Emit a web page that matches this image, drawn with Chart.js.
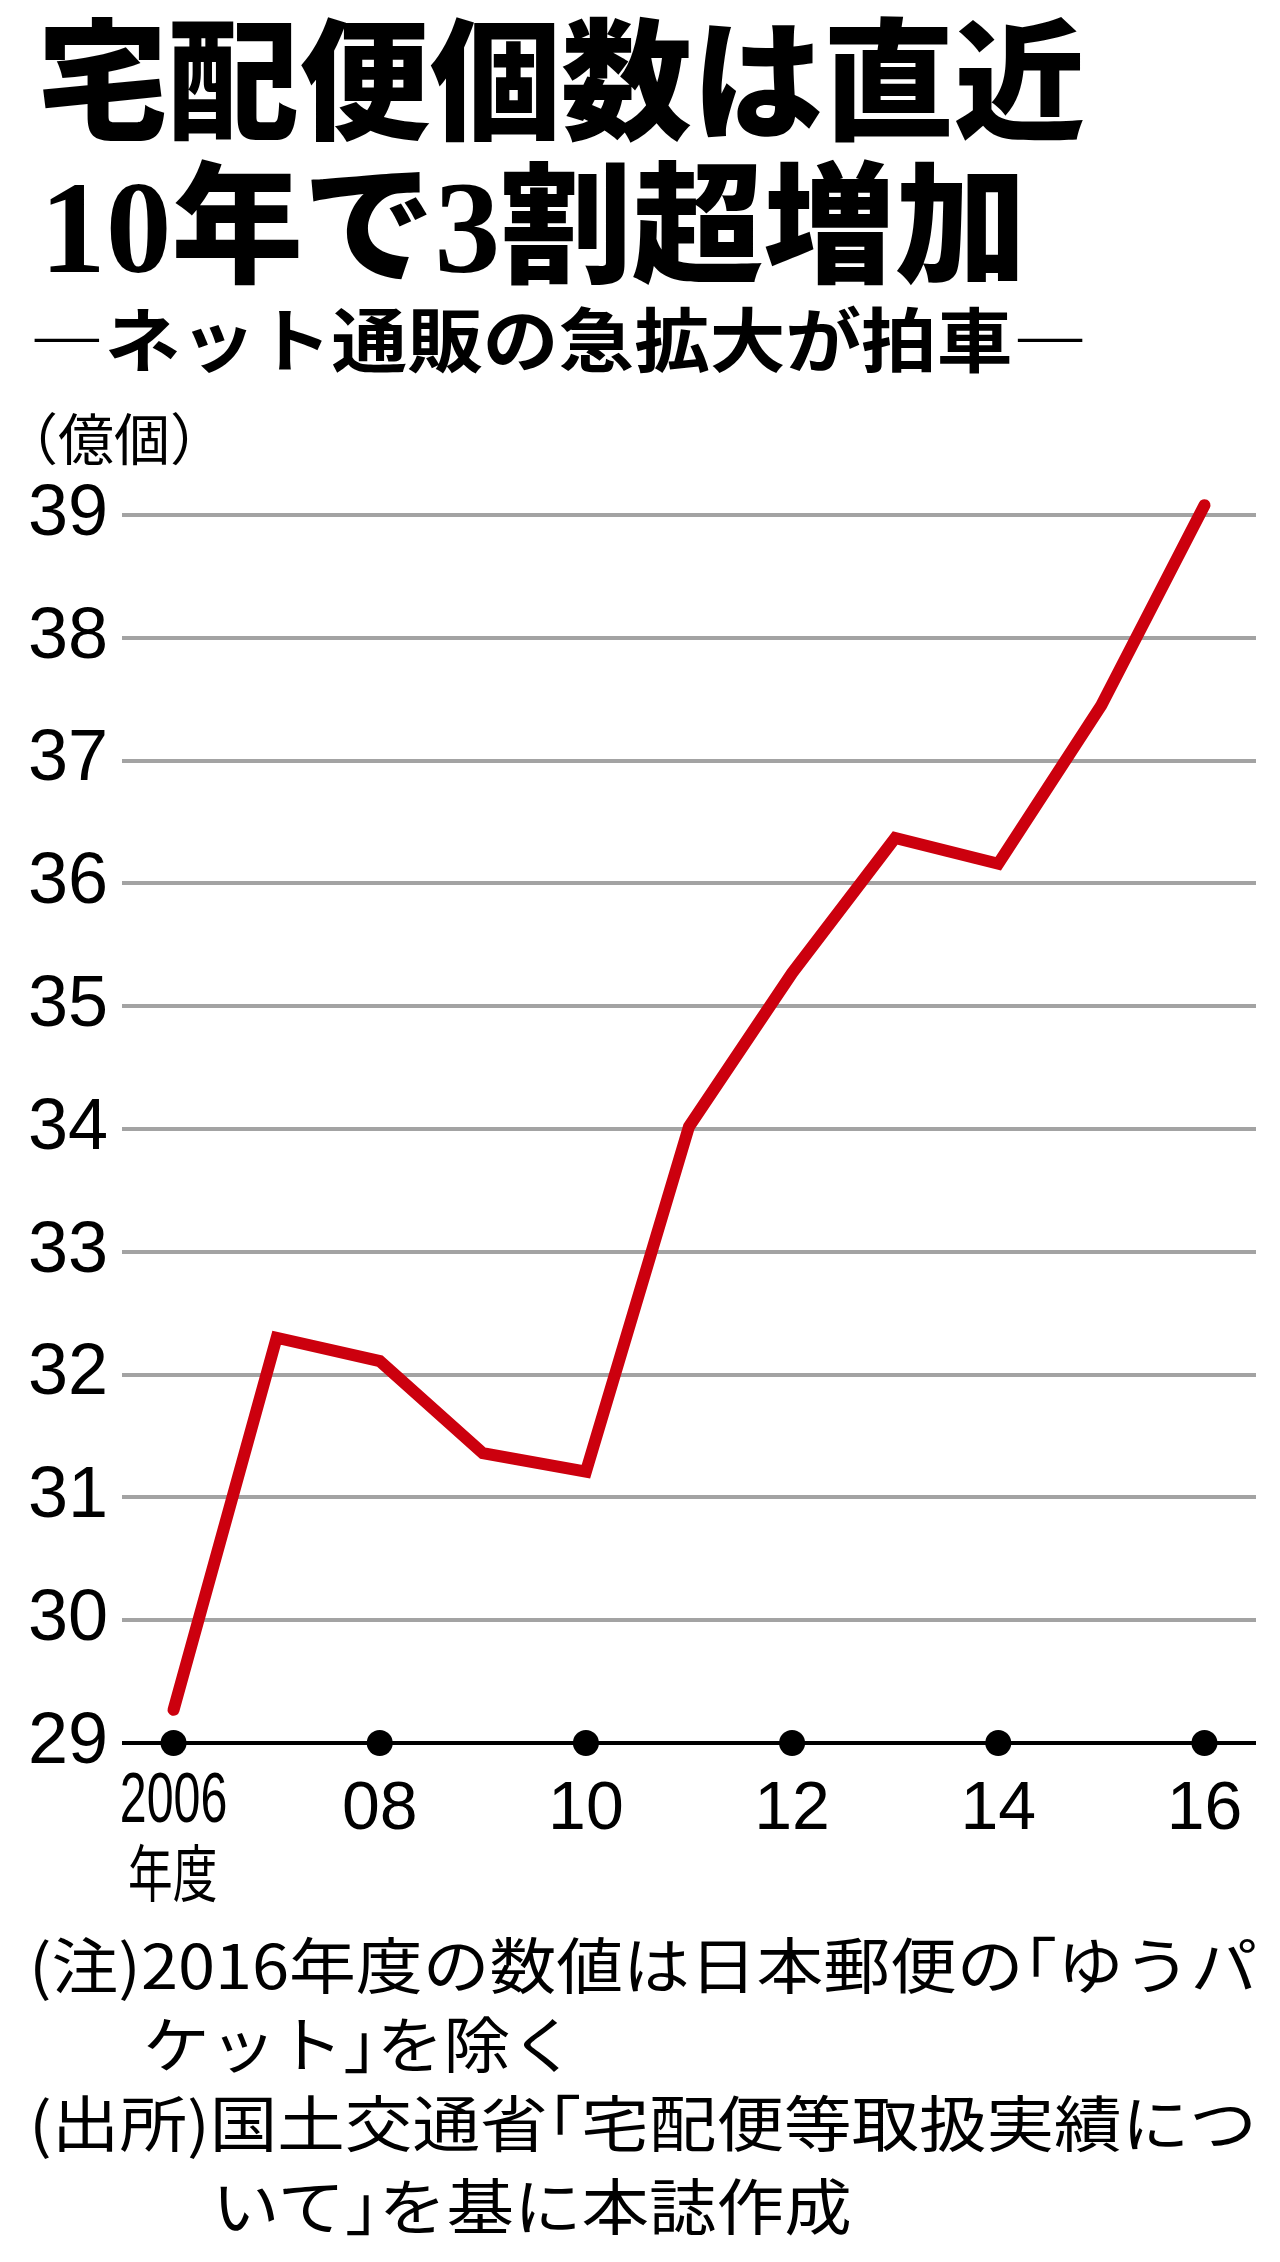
<!DOCTYPE html>
<html>
<head>
  <meta charset="UTF-8">
  <script src="https://cdn.jsdelivr.net/npm/chart.js"></script>
  <style>
    body { margin: 0; background: #fff; }
    .page { position: relative; width: 1280px; height: 2262px; overflow: hidden; background: #fff; }
    .txt { position: absolute; white-space: nowrap; line-height: 1; color: #000; transform-origin: 0 50%; }
    .title { font-family: "Liberation Serif", "Noto Sans CJK JP", serif; font-weight: 900; font-size: 131px; }
    .sub { font-family: "Noto Sans CJK JP", sans-serif; font-weight: 700; font-size: 70px; }
    .unit { font-family: "Noto Sans CJK JP", sans-serif; font-size: 56px; }
    .note { font-family: "Noto Sans CJK JP", sans-serif; font-size: 61px; }
    .br { font-feature-settings: "halt"; }
    #chartWrap { position: absolute; left: 0; top: 460px; width: 1280px; height: 1380px; }
  </style>
</head>
<body>
  <div class="page">
    <div class="txt title fit" data-w="1048" style="left:37px; top:19px;">宅配便個数は直近</div>
    <div class="txt title fit" data-w="987" style="left:40px; top:162px;">10年で3割超増加</div>
    <div class="txt sub fit" data-w="1059" style="left:29px; top:302px;">―ネット通販の急拡大が拍車―</div>
    <div class="txt unit" style="left:2px; top:408px;">（億個）</div>

    <div id="chartWrap">
      <canvas id="myChart" width="1280" height="1380"></canvas>
    </div>

    <div class="txt note" style="left:128px; top:1839px; font-size:62px; transform:scaleX(0.72);">年度</div>

    <div class="txt note fit" id="n1" data-w="1228" style="left:29px; top:1932px;">(注)2016年度の数値は日本郵便の<span class="br">「</span>ゆうパ</div>
    <div class="txt note" data-like="n1" style="left:143px; top:2011px;">ケット<span class="br">」</span>を除く</div>
    <div class="txt note fit" id="n3" data-w="1228" style="left:29px; top:2090px;">(出所)国土交通省<span class="br">「</span>宅配便等取扱実績につ</div>
    <div class="txt note" data-like="n3" style="left:212px; top:2173px;">いて<span class="br">」</span>を基に本誌作成</div>
  </div>

  <script>
    // 宅配便取扱個数（億個）、年度別
    const years = ['2006', '2007', '2008', '2009', '2010', '2011', '2012', '2013', '2014', '2015', '2016'];
    const parcels = [29.27, 32.30, 32.11, 31.36, 31.21, 34.02, 35.27, 36.37, 36.16, 37.45, 39.08];
    const xTickLabels = ['2006', '', '08', '', '10', '', '12', '', '14', '', '16'];
    const yMin = 29;
    const yMax = 39;

    // year markers sitting on the base line
    const markers = years.map((y, i) => xTickLabels[i] !== '' ? yMin : null);

    // squeeze / stretch header and note lines to their widths
    const scales = {};
    document.querySelectorAll('.fit').forEach(el => {
      const k = parseFloat(el.dataset.w) / el.scrollWidth;
      el.style.transform = 'scaleX(' + k + ')';
      scales[el.id] = k;
    });
    document.querySelectorAll('[data-like]').forEach(el => {
      el.style.transform = 'scaleX(' + scales[el.dataset.like] + ')';
    });

    const tickFont = '"Liberation Sans", Arial, sans-serif';
    const tickPad = 25;

    // the first year label is set in a narrow face in the original
    const narrowFirstTick = {
      id: 'narrowFirstTick',
      afterDraw(chart) {
        const x = chart.scales.x;
        const c = chart.ctx;
        c.save();
        c.font = '70px ' + tickFont;
        c.fillStyle = '#000';
        c.textAlign = 'center';
        c.textBaseline = 'middle';
        c.translate(x.getPixelForTick(0), x.top + tickPad + 35);
        c.scale(0.69, 1);
        c.fillText(xTickLabels[0], 0, 0);
        c.restore();
      }
    };

    new Chart(document.getElementById('myChart'), {
      type: 'line',
      data: {
        labels: years,
        datasets: [{
          label: '宅配便個数',
          data: parcels,
          borderColor: '#cc000e',
          borderWidth: 12,
          borderCapStyle: 'round',
          borderJoinStyle: 'miter',
          pointRadius: 0,
          tension: 0,
          clip: false
        },
        {
          label: 'markers',
          data: markers,
          showLine: false,
          pointRadius: 13,
          pointBackgroundColor: '#000',
          pointBorderWidth: 0,
          clip: false
        }]
      },
      options: {
        responsive: false,
        animation: false,
        devicePixelRatio: 1,
        layout: { padding: { top: 55, right: 24, left: 28, bottom: 0 } },
        plugins: {
          legend: { display: false },
          tooltip: { enabled: false }
        },
        scales: {
          x: {
            offset: true,
            grid: { display: false },
            border: { display: false },
            ticks: {
              autoSkip: false,
              maxRotation: 0,
              padding: tickPad,
              color: (ctx) => ctx.index === 0 ? 'rgba(0,0,0,0)' : '#000',
              font: { family: tickFont, size: 68, lineHeight: 1 },
              callback: (value, index) => xTickLabels[index]
            },
            afterFit: (scale) => { scale.height = 97; }
          },
          y: {
            min: yMin,
            max: yMax,
            grid: {
              drawTicks: false,
              color: (ctx) => ctx.tick && ctx.tick.value === yMin ? '#000' : '#a3a3a3',
              lineWidth: 4
            },
            border: { display: false },
            ticks: {
              stepSize: 1,
              crossAlign: 'far',
              color: '#000',
              font: { family: tickFont, size: 72 }
            },
            afterFit: (scale) => { scale.width = 94; }
          }
        }
      },
      plugins: [narrowFirstTick]
    });
  </script>
</body>
</html>
